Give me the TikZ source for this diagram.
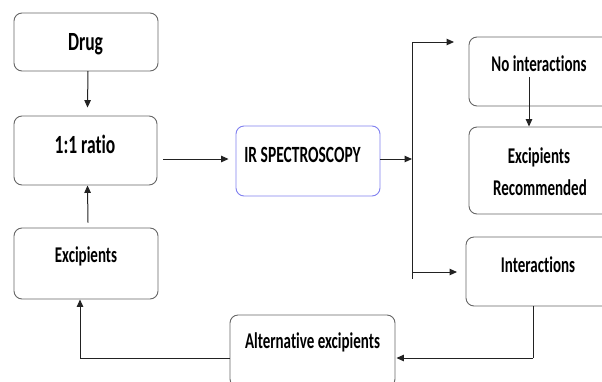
\documentclass[tikz,border=0pt]{standalone}
\usepackage{fontspec}
\setmainfont{Carlito}[Ligatures={NoCommon}]
\usetikzlibrary{arrows.meta,calc}
\definecolor{boxline}{HTML}{666666}
\definecolor{irline}{HTML}{8080F0}
\definecolor{conn}{HTML}{222222}
\newcommand{\vtxt}[1]{\scalebox{1}[1.5]{#1}}
\tikzset{
  box/.style={draw=boxline, line width=0.9pt, rounded corners=8pt, inner sep=0pt},
  irbox/.style={box, draw=irline},
  txt/.style={inner sep=0pt, anchor=base, font=\bfseries\fontsize{15}{18}\selectfont},
  bigtxt/.style={txt, font=\bfseries\fontsize{17.5}{20}\selectfont},
  arr/.style={draw=conn, line width=1pt, -{Triangle[length=7.5pt,width=6.5pt]}},
  ln/.style={draw=conn, line width=1pt}
}
\begin{document}
\begin{tikzpicture}[x=1pt,y=-1pt]
\useasboundingbox (0,0) rectangle (602,381);
\clip (0,0) rectangle (602,381);
\fill[white] (0,0) rectangle (602,381);
% boxes
\node[box, minimum width=144pt, minimum height=58pt] (drug) at (86,42) {};
\node[box, minimum width=143pt, minimum height=69pt] (ratio) at (85.5,150.5) {};
\node[box, minimum width=144pt, minimum height=71pt] (exc) at (86,263.5) {};
\node[irbox, minimum width=144pt, minimum height=70pt] (ir) at (308,161) {};
\node[box, minimum width=144pt, minimum height=69pt] (noint) at (541,71.5) {};
\node[box, minimum width=144pt, minimum height=87pt] (rec) at (541,170.5) {};
\node[box, minimum width=144pt, minimum height=69pt] (inter) at (538,271.5) {};
\node[box, minimum width=165pt, minimum height=72pt] (alt) at (312.5,351) {};
% texts
\node[bigtxt] (tdrug) at (85.5,50) {\vtxt{Drug}};
\node[bigtxt] (tratio) at (85,153) {\vtxt{1:1 ratio}};
\node[txt, font=\bfseries\fontsize{15.5}{18}\selectfont] (tir) at (302.5,162) {\vtxt{IR SPECTROSCOPY}};
\node[txt] (tnoint) at (539,71) {\vtxt{No interactions}};
\node[txt] (trec1) at (539,163) {\vtxt{Excipients}};
\node[txt] (trec2) at (540,195) {\vtxt{Recommended}};
\node[txt] (texc) at (86,262) {\vtxt{Excipients}};
\node[txt] (tinter) at (538,272) {\vtxt{Interactions}};
\node[txt] (talt) at (312.5,348) {\vtxt{Alternative excipients}};
% helper coordinates
\coordinate (tTop) at (412,42);
\coordinate (tBot) at (412,279);
\coordinate (tLow) at (412,272);
\coordinate (nsrc) at (529,77);
\coordinate (isrc) at (533,306);
\coordinate (iturn) at (533,358);
\coordinate (aturn) at (80,358);
% connectors
\draw[arr] (88,71) -- ([shift={(2pt,8pt)}]ratio.north);
\draw[arr] ([shift={(6pt,-8.5pt)}]ratio.east) -- ([shift={(-7pt,2pt)}]ir.west);
\draw[arr] ([yshift=2pt]ir.east) -- ([yshift=2pt]ir.east -| tTop);
\draw[ln] (tTop) -- (tBot);
\draw[arr] (tTop) -- (454,42);
\draw[arr] (tLow) -- (457,272);
\draw[arr] (nsrc) -- (nsrc |- rec.north);
\draw[ln] (isrc) -- (iturn);
\draw[arr] (iturn) -- ([xshift=1pt]iturn -| alt.east);
\draw[ln] (alt.west |- aturn) -- (aturn);
\draw[arr] (aturn) -- (aturn |- exc.south);
\draw[arr] ([shift={(2pt,5pt)}]exc.north) -- ([xshift=2pt]ratio.south);
\end{tikzpicture}
\end{document}
